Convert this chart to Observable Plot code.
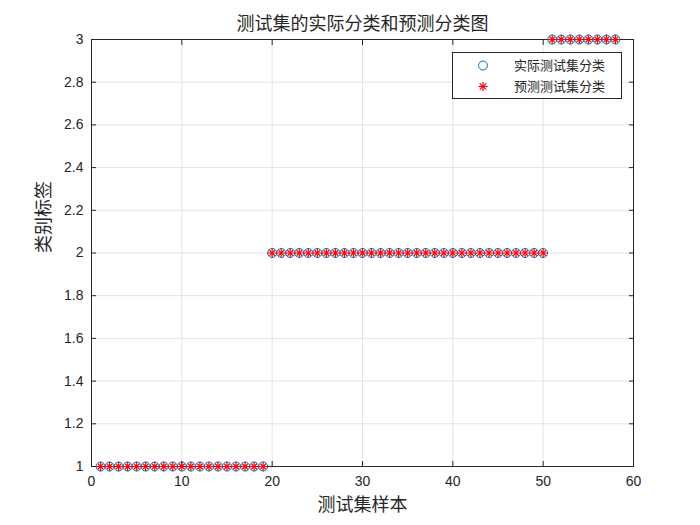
<!DOCTYPE html>
<html>
<head>
<meta charset="utf-8">
<script src="https://cdn.jsdelivr.net/npm/d3@7"></script>
<script src="https://cdn.jsdelivr.net/npm/@observablehq/plot@0.6"></script>
<style>
  html, body { margin: 0; padding: 0; background: #fff; }
  #wrap { position: relative; width: 700px; height: 525px; }
  #legend { position: absolute; left: 452px; top: 52px; width: 168px; height: 45px;
    border: 1px solid #262626; background: #fff; font-family: "Noto Sans CJK SC", sans-serif;
    font-size: 13px; color: #262626; }
</style>
</head>
<body>
<div id="wrap"></div>
<script>
const title = "测试集的实际分类和预测分类图";
const xLabel = "测试集样本";
const yLabel = "类别标签";
const legendLabels = ["实际测试集分类", "预测测试集分类"];
const xTicks = [0, 10, 20, 30, 40, 50, 60];
const yTicks = [1, 1.2, 1.4, 1.6, 1.8, 2, 2.2, 2.4, 2.6, 2.8, 3];
const sampleIndex = [1,2,3,4,5,6,7,8,9,10,11,12,13,14,15,16,17,18,19,
  20,21,22,23,24,25,26,27,28,29,30,31,32,33,34,35,36,37,38,39,40,41,42,43,44,45,46,47,48,49,50,
  51,52,53,54,55,56,57,58];
const actualClass = [1,1,1,1,1,1,1,1,1,1,1,1,1,1,1,1,1,1,1,
  2,2,2,2,2,2,2,2,2,2,2,2,2,2,2,2,2,2,2,2,2,2,2,2,2,2,2,2,2,2,2,
  3,3,3,3,3,3,3,3];
const predictedClass = [1,1,1,1,1,1,1,1,1,1,1,1,1,1,1,1,1,1,1,
  2,2,2,2,2,2,2,2,2,2,2,2,2,2,2,2,2,2,2,2,2,2,2,2,2,2,2,2,2,2,2,
  3,3,3,3,3,3,3,3];

const data = sampleIndex.map((x, i) => ({x, actual: actualClass[i], pred: predictedClass[i]}));
const ink = "#262626";
const cjk = "'Noto Sans CJK SC', sans-serif";

const chart = Plot.plot({
  width: 700, height: 525,
  marginLeft: 91, marginRight: 67, marginTop: 39, marginBottom: 59,
  style: {background: "white", fontFamily: "'Liberation Sans', Arial, sans-serif", fontSize: "14px", color: ink, overflow: "visible"},
  x: {domain: [0, 60]},
  y: {domain: [1, 3]},
  marks: [
    Plot.gridX(xTicks, {stroke: "#e3e3e3", strokeOpacity: 1}),
    Plot.gridY(yTicks, {stroke: "#e3e3e3", strokeOpacity: 1}),
    Plot.frame({stroke: ink}),
    Plot.axisX(xTicks, {anchor: "bottom", tickSize: -5, tickPadding: 15, label: null, fill: ink, stroke: ink, fontSize: 14, tickFormat: d => String(d)}),
    Plot.axisX(xTicks, {anchor: "top", tickSize: -5, text: null, label: null, stroke: ink}),
    Plot.axisY(yTicks, {anchor: "left", tickSize: -5, tickPadding: 13, label: null, fill: ink, stroke: ink, fontSize: 14, tickFormat: d => String(d)}),
    Plot.axisY(yTicks, {anchor: "right", tickSize: -5, text: null, label: null, stroke: ink}),
    Plot.dot(data, {x: "x", y: "actual", r: 4.5, symbol: "circle", stroke: "#0072BD", strokeWidth: 1}),
    Plot.dot(data, {x: "x", y: "pred", r: 3.1, symbol: "plus", stroke: "red", fill: "none", strokeWidth: 1.2}),
    Plot.dot(data, {x: "x", y: "pred", r: 2.6, symbol: "times", stroke: "red", fill: "none", strokeWidth: 1.2}),
    Plot.text([title], {frameAnchor: "top", dy: -22, fontSize: 18, fontFamily: cjk, fill: ink}),
    Plot.text([xLabel], {frameAnchor: "bottom", dy: 44, fontSize: 18, fontFamily: cjk, fill: ink}),
    Plot.text([yLabel], {frameAnchor: "left", dx: -47, rotate: -90, fontSize: 18, fontFamily: cjk, fill: ink})
  ]
});
const wrap = document.getElementById("wrap");
wrap.appendChild(chart);

const legend = document.createElement("div");
legend.id = "legend";
const ls = d3.create("svg").attr("width", 168).attr("height", 45);
ls.append("circle").attr("cx", 30).attr("cy", 12.5).attr("r", 4.5).attr("fill", "none").attr("stroke", "#0072BD");
const ast = ls.append("g").attr("transform", "translate(30,33.5)").attr("stroke", "red").attr("stroke-width", 1.2);
[[0,-4.5,0,4.5],[-4.5,0,4.5,0],[-3.2,-3.2,3.2,3.2],[-3.2,3.2,3.2,-3.2]].forEach(([a,b,c,d]) =>
  ast.append("line").attr("x1", a).attr("y1", b).attr("x2", c).attr("y2", d));
legendLabels.forEach((t, i) => ls.append("text").attr("x", 61).attr("y", 12.5 + 21 * i).attr("dy", "0.35em")
  .attr("font-family", cjk).attr("font-size", 13).attr("fill", ink).text(t));
legend.appendChild(ls.node());
wrap.appendChild(legend);
</script>
</body>
</html>
